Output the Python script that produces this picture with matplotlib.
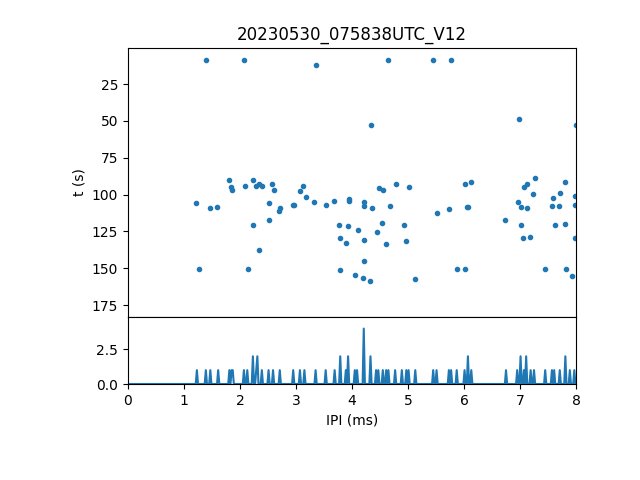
import numpy as np
import matplotlib.pyplot as plt

# detected clicks: inter-pulse interval (ms) vs time (s)
ipi = [1.40, 2.08, 3.36, 4.65, 5.45, 5.77, 4.34, 6.99, 8.00,
       1.22, 1.26, 1.46, 1.59, 1.80, 1.84, 1.86, 2.09, 2.15, 2.24,
       2.29, 2.34, 2.40, 2.24, 2.34, 2.52, 2.51, 2.58, 2.60, 2.70,
       2.72, 2.95, 2.97, 3.08, 3.13, 3.17, 3.33, 3.54, 3.68, 3.95,
       3.95, 3.77, 3.79, 3.90, 3.93, 4.11, 3.79, 4.06,
       4.22, 4.22, 4.36, 4.49, 4.56, 4.79, 5.02, 4.67, 4.54, 4.45,
       4.22, 4.61, 4.92, 4.97, 4.22, 4.20, 4.33, 5.13, 5.52, 5.74,
       6.01, 6.13, 6.06, 6.08, 5.88, 6.02, 6.74, 6.97, 7.02, 7.13,
       7.08, 7.13, 7.26, 7.24, 7.02, 7.06, 7.18, 7.45, 7.59, 7.58,
       7.70, 7.72, 7.81, 7.63, 7.81, 7.83, 7.92, 7.99, 7.99, 7.99]
t = [8.7, 8.7, 12.1, 8.7, 8.7, 8.7, 52.8, 48.8, 52.8,
     105.9, 150.7, 109.3, 108.6, 90.2, 95.0, 97.0, 94.3, 150.7, 90.2,
     94.3, 93.0, 94.3, 120.8, 137.8, 105.9, 117.4, 93.0, 97.0, 111.3,
     109.3, 107.2, 107.2, 97.7, 94.3, 101.8, 105.2, 107.2, 104.5, 103.2,
     104.5, 120.8, 129.7, 133.1, 121.5, 124.2, 151.4, 154.8,
     105.2, 107.9, 109.3, 95.7, 97.0, 93.0, 95.0, 107.9, 119.5, 125.6,
     131.0, 133.7, 120.8, 131.7, 145.3, 156.9, 158.9, 157.5, 112.7, 110.0,
     93.0, 91.6, 108.6, 108.6, 150.7, 150.7, 117.4, 105.2, 108.6, 109.3,
     95.0, 93.0, 88.9, 99.7, 120.8, 129.7, 129.0, 150.7, 102.5, 107.9,
     107.9, 99.1, 91.6, 120.8, 120.1, 150.7, 155.5, 101.1, 107.2, 129.7]

# IPI histogram (non-empty bins)
hist_ipi = [1.23, 1.39, 1.47, 1.60, 1.81, 1.84, 1.86, 2.06, 2.13, 2.23,
            2.30, 2.32, 2.39, 2.51, 2.58, 2.70, 2.95, 3.07, 3.14, 3.35,
            3.52, 3.68, 3.79, 3.89, 3.93, 4.05, 4.10, 4.20, 4.33, 4.43,
            4.47, 4.54, 4.61, 4.65, 4.77, 4.89, 4.96, 5.02, 5.12, 5.44,
            5.51, 5.73, 5.76, 5.87, 6.00, 6.06, 6.13, 6.74, 6.95, 7.02,
            7.07, 7.11, 7.18, 7.24, 7.45, 7.57, 7.61, 7.71, 7.80, 7.89,
            7.97]
hist_cnt = [1, 1, 1, 1, 1, 1, 1, 1, 1, 2,
            1, 2, 1, 1, 1, 1, 1, 1, 1, 1,
            1, 1, 2, 1, 2, 1, 1, 4, 2, 1,
            1, 1, 1, 1, 1, 1, 1, 1, 1, 1,
            1, 1, 1, 1, 1, 2, 1, 1, 1, 2,
            1, 2, 1, 1, 1, 1, 1, 1, 2, 1,
            1]

binw = 0.02
centers = np.arange(binw / 2, 8, binw)
counts = np.zeros(len(centers))
for xv, c in zip(hist_ipi, hist_cnt):
    counts[int(xv / binw)] = c

fig, (ax1, ax2) = plt.subplots(2, 1, sharex=True, figsize=(6.4, 4.8), dpi=100,
                               gridspec_kw={'height_ratios': [4, 1], 'hspace': 0})
fig.subplots_adjust(left=0.2, right=0.9, bottom=0.2, top=0.9)

ax1.plot(ipi, t, '.')
ax1.set_ylim(183, 0.5)
ax1.set_yticks([25, 50, 75, 100, 125, 150, 175])
ax1.set_ylabel('t (s)')
ax1.set_title('20230530_075838UTC_V12')
ax1.tick_params(axis='x', bottom=False)

ax2.plot(centers, counts)
ax2.set_xlim(0, 8)
ax2.set_ylim(0, 4.85)
ax2.set_yticks([0.0, 2.5])
ax2.set_xlabel('IPI (ms)')

plt.savefig('out.png')
